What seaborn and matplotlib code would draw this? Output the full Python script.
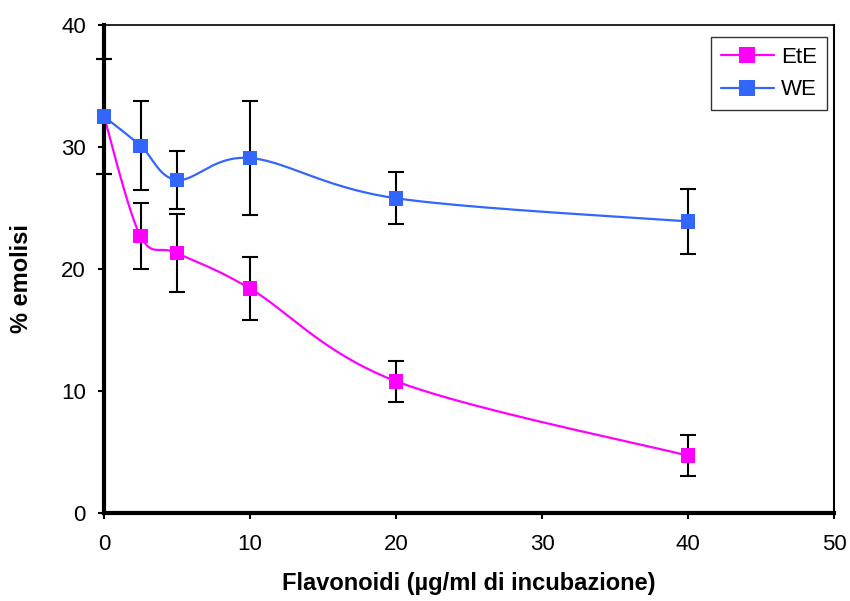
import seaborn as sns
import matplotlib.pyplot as plt
import numpy as np
import pandas as pd
from matplotlib.lines import Line2D

# Data
dose = [0, 2.5, 5, 10, 20, 40]
ete_mean = [32.5, 22.7, 21.3, 18.4, 10.8, 4.7]
ete_err = [4.75, 2.7, 3.2, 2.55, 1.7, 1.7]
we_mean = [32.5, 30.1, 27.3, 29.1, 25.8, 23.9]
we_err = [4.75, 3.65, 2.4, 4.7, 2.15, 2.65]

series_names = ["EtE", "WE"]
colors = {"EtE": "#FF00FF", "WE": "#3366FF"}


def smooth_curve(x, y, n=40):
    """Catmull-Rom style smoothing, similar to Excel's smoothed line."""
    x = np.asarray(x, float)
    y = np.asarray(y, float)
    px = np.concatenate([[x[0]], x, [x[-1]]])
    py = np.concatenate([[y[0]], y, [y[-1]]])
    xs, ys = [], []
    t = np.linspace(0, 1, n)
    for i in range(1, len(px) - 2):
        p0, p1, p2, p3 = (np.array([px[j], py[j]]) for j in (i - 1, i, i + 1, i + 2))
        c1 = p1 + (p2 - p0) / 6
        c2 = p2 - (p3 - p1) / 6
        b = ((1 - t) ** 3)[:, None] * p1 + (3 * (1 - t) ** 2 * t)[:, None] * c1 \
            + (3 * (1 - t) * t ** 2)[:, None] * c2 + (t ** 3)[:, None] * p2
        xs.extend(b[:, 0])
        ys.extend(b[:, 1])
    return xs, ys


sns.set_style("white")
plt.rcParams['font.family'] = ['Liberation Sans', 'DejaVu Sans']
plt.rcParams['text.color'] = 'black'
plt.rcParams['axes.labelcolor'] = 'black'

fig = plt.figure(figsize=(8.5, 6.01), dpi=100)
ax = fig.add_axes([0.1224, 0.1464, 0.8588, 0.812])

points = pd.DataFrame({
    "dose": dose * 2,
    "value": ete_mean + we_mean,
    "err": ete_err + we_err,
    "series": ["EtE"] * len(dose) + ["WE"] * len(dose),
})

for name in series_names:
    sub = points[points["series"] == name]
    sx, sy = smooth_curve(sub["dose"], sub["value"])
    curve = pd.DataFrame({"x": sx, "y": sy})
    sns.lineplot(data=curve, x="x", y="y", sort=False, color=colors[name],
                 lw=1.6, ax=ax, zorder=2)
    ax.errorbar(sub["dose"], sub["value"], yerr=sub["err"], fmt="none",
                ecolor="black", elinewidth=1.5, capsize=5.8, capthick=1.5,
                zorder=3, clip_on=False)
    sns.scatterplot(data=sub, x="dose", y="value", marker="s", s=110,
                    color=colors[name], edgecolor="none", ax=ax, zorder=4,
                    clip_on=False)

ax.set_xlim(0, 50)
ax.set_ylim(0, 40)
ax.set_xticks([0, 10, 20, 30, 40, 50])
ax.set_yticks([0, 10, 20, 30, 40])
ax.tick_params(axis="both", direction="out", length=4, width=1.5,
               labelsize=16, colors="black", bottom=True, left=True)
ax.tick_params(axis="x", pad=11)
ax.tick_params(axis="y", pad=9)

ax.set_xlabel("Flavonoidi (µg/ml di incubazione)", fontsize=17,
              fontweight="bold", labelpad=12)
ax.set_ylabel("% emolisi", fontsize=17, fontweight="bold")
ax.yaxis.set_label_coords(-0.097, 0.48)

for side in ["left", "bottom"]:
    ax.spines[side].set_linewidth(3)
    ax.spines[side].set_color("black")
ax.spines["top"].set_linewidth(1.2)
ax.spines["right"].set_linewidth(1.5)
for side in ["top", "right"]:
    ax.spines[side].set_visible(True)
    ax.spines[side].set_color("black")

handles = [Line2D([0], [0], color=colors[n], lw=1.6, marker="s",
                  markersize=11, markeredgewidth=0) for n in series_names]
leg = ax.legend(handles, series_names, loc="upper right",
                bbox_to_anchor=(0.990, 0.975), borderaxespad=0, fontsize=16,
                frameon=True, fancybox=False, edgecolor="black",
                handlelength=2.4, borderpad=0.45, labelspacing=0.5,
                handletextpad=0.3)
leg.get_frame().set_linewidth(1.0)

fig.savefig("out.png", dpi=100)
